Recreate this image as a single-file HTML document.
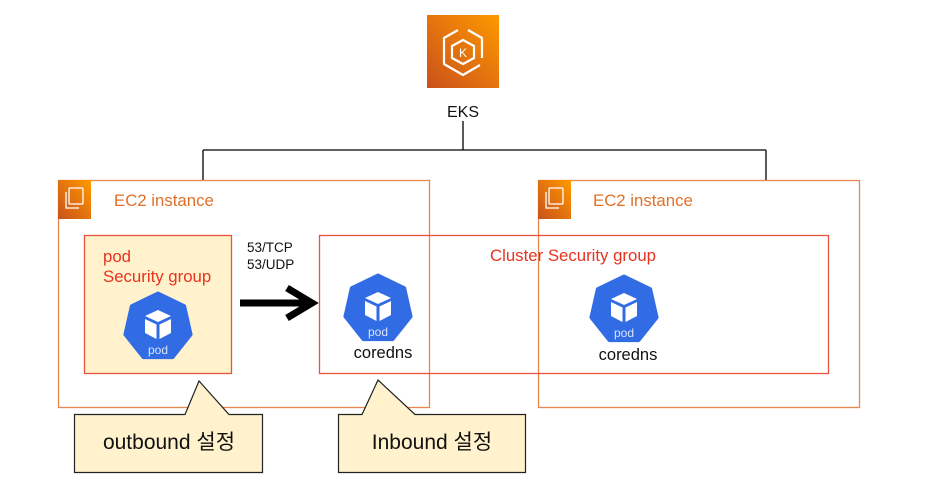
<!DOCTYPE html>
<html><head><meta charset="utf-8"><style>
html,body{margin:0;padding:0;background:#fff;}
svg{display:block;font-family:"Liberation Sans","Noto Sans CJK KR",sans-serif;}
</style></head><body>
<svg width="941" height="480" viewBox="0 0 941 480" xmlns="http://www.w3.org/2000/svg">
<defs>
<linearGradient id="og" x1="0" y1="1" x2="1" y2="0">
<stop offset="0" stop-color="#c8511b"/><stop offset="1" stop-color="#f90"/>
</linearGradient>
<g id="pod">
<polygon points="0,-34 26.6,-21.2 33.1,7.6 14.8,30.6 -14.8,30.6 -33.1,7.6 -26.6,-21.2" fill="#326ce5" stroke="#326ce5" stroke-width="3" stroke-linejoin="round"/>
<polygon points="0,-17 -13,-11 0,-5 13,-11" fill="#fff"/>
<polygon points="-13,-8 -1.5,-2.5 -1.5,12 -13,6" fill="#fff"/>
<polygon points="13,-8 1.5,-2.5 1.5,12 13,6" fill="#fff"/>
</g>
<g id="ec2">
<rect x="0" y="0" width="33" height="39" fill="url(#og)"/>
<rect x="11" y="8" width="14" height="16" fill="none" stroke="#fff" stroke-width="1.3" rx="1"/>
<path d="M8 12 v16 h13" fill="none" stroke="#fff" stroke-width="1.3"/>
</g>
</defs>
<rect x="427" y="15" width="72" height="73" fill="url(#og)"/>
<g fill="none" stroke="#fff" stroke-width="2.2" stroke-linejoin="round">
<path d="M458 30 L444 38 V64 L463 75 L480 65"/>
<path d="M468 30 L482 38 V58"/>
<polygon points="463,40 474,46 474,58 463,64 452,58 452,46"/>
</g>
<text x="463" y="57" font-size="12" fill="#fff" text-anchor="middle">K</text>
<text x="463" y="117" font-size="16" text-anchor="middle" fill="#111">EKS</text>
<path d="M463 121 V150 M203 150 H766 M203 150 V180 M766 150 V180" stroke="#000" stroke-width="1.3" fill="none"/>
<rect x="58.5" y="180.5" width="371" height="227" fill="none" stroke="#e8874f" stroke-width="1.3"/>
<use href="#ec2" x="58" y="180"/>
<text x="114" y="206" font-size="16.8" fill="#e0702a">EC2 instance</text>
<rect x="538.5" y="180.5" width="321" height="227" fill="none" stroke="#e8874f" stroke-width="1.3"/>
<use href="#ec2" x="538" y="180"/>
<text x="593" y="206" font-size="16.8" fill="#e0702a">EC2 instance</text>
<rect x="84.5" y="235.5" width="147" height="138" fill="#fff2cc" stroke="#e8533a" stroke-width="1.3"/>
<text x="103" y="262" font-size="16.8" fill="#e8331f">pod</text>
<text x="103" y="282" font-size="16.8" fill="#e8331f">Security group</text>
<use href="#pod" x="158" y="327"/>
<text x="158" y="354" font-size="12" fill="#d8e4fb" text-anchor="middle">pod</text>
<rect x="319.5" y="235.5" width="509" height="138" fill="none" stroke="#e8533a" stroke-width="1.3"/>
<text x="490" y="261" font-size="16.8" fill="#e8331f">Cluster Security group</text>
<use href="#pod" x="378" y="309"/>
<text x="378" y="336" font-size="12" fill="#d8e4fb" text-anchor="middle">pod</text>
<text x="383" y="358" font-size="16.5" fill="#111" text-anchor="middle">coredns</text>
<use href="#pod" x="624" y="310"/>
<text x="624" y="337" font-size="12" fill="#d8e4fb" text-anchor="middle">pod</text>
<text x="628" y="360" font-size="16.5" fill="#111" text-anchor="middle">coredns</text>
<text x="247" y="252" font-size="13.5" fill="#111">53/TCP</text>
<text x="247" y="269" font-size="13.5" fill="#111">53/UDP</text>
<path d="M240 303 H308" stroke="#000" stroke-width="7"/>
<path d="M287 288 L312 303 L287 318" fill="none" stroke="#000" stroke-width="7" stroke-linejoin="miter"/>
<path d="M74.5 414.5 H185 L199 381 L229 414.5 H262.5 V472.5 H74.5 Z" fill="#fff2cc" stroke="#222" stroke-width="1.2"/>
<text x="169" y="449" font-size="21" fill="#111" text-anchor="middle">outbound 설정</text>
<path d="M338.5 414.5 H362 L378 380 L415 414.5 H525.5 V472.5 H338.5 Z" fill="#fff2cc" stroke="#222" stroke-width="1.2"/>
<text x="432" y="449" font-size="21" fill="#111" text-anchor="middle">Inbound 설정</text>
</svg>
</body></html>
